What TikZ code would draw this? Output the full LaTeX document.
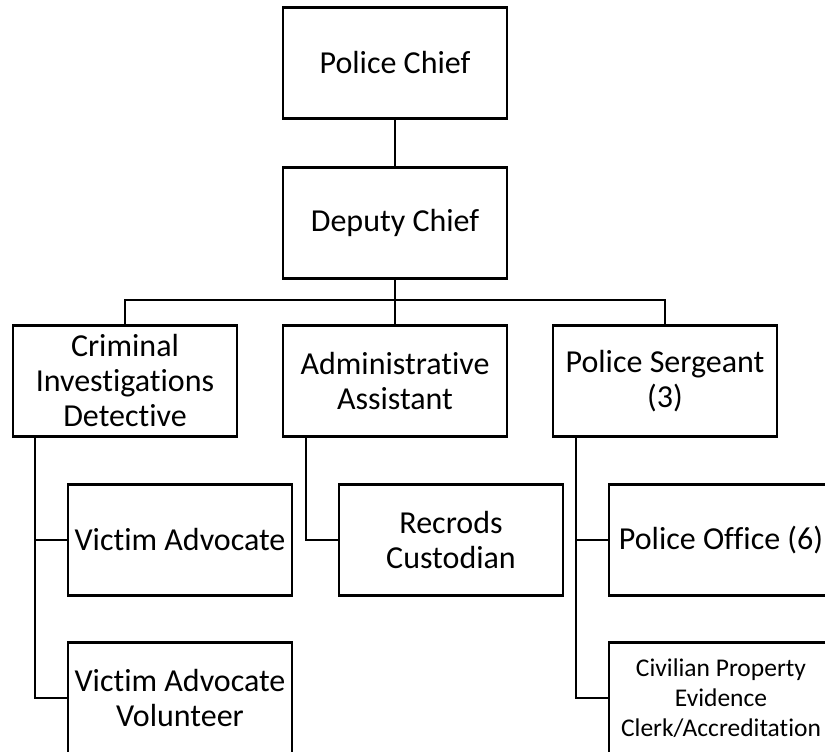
\documentclass[tikz,border=0pt]{standalone}
\usepackage{fontspec}
\setmainfont{Carlito}[RawFeature={-liga;-clig;-calt;-dlig}]
\usepackage{tikz}
\usetikzlibrary{positioning}

\begin{document}
\begin{tikzpicture}[x=1pt, y=-1pt, line width=2.4pt,
    post/.style={draw, rectangle, minimum width=224pt, minimum height=111pt,
      align=center, inner sep=2pt, font=\fontsize{32}{35}\selectfont},
    small/.style={font=\fontsize{25.5}{30}\selectfont}]
    \useasboundingbox (0,0) rectangle (825,752);
    \clip (0,0) rectangle (825,752);
    % top of the chart
    \node[post] (chief) at (395,63) {Police Chief};
    \node[post] (deputy) at (395,223) {Deputy Chief};
    \node[post] (crim) at (125,381) {Criminal\\Investigations\\Detective};
    \node[post] (admin) at (395,381) {Administrative\\Assistant};
    \node[post] (sgt) at (665,381) {Police Sergeant\\(3)};
    % second row
    \node[post] (advocate) at (180,540) {Victim Advocate};
    \node[post] (volunteer) at (180,698) {Victim Advocate\\Volunteer};
    \node[post] (records) at (451,540) {Recrods\\Custodian};
    \node[post] (officer) at (721,540) {Police Office (6)};
    \node[post, small] (civilian) at (721,698) {Civilian Property\\Evidence\\Clerk/Accreditation};
    % connectors
    \coordinate (bus) at (395,300);
    \draw (chief) -- (deputy);
    \draw (deputy) -- (bus);
    \draw (crim.north) |- (bus) -| (sgt.north);
    \draw (bus) -- (admin);
    \draw ([xshift=-90pt]crim.south) |- (advocate.west);
    \draw ([xshift=-90pt]crim.south) |- (volunteer.west);
    \draw ([xshift=-89pt]admin.south) |- (records.west);
    \draw ([xshift=-89pt]sgt.south) |- (officer.west);
    \draw ([xshift=-89pt]sgt.south) |- (civilian.west);
\end{tikzpicture}
\end{document}
